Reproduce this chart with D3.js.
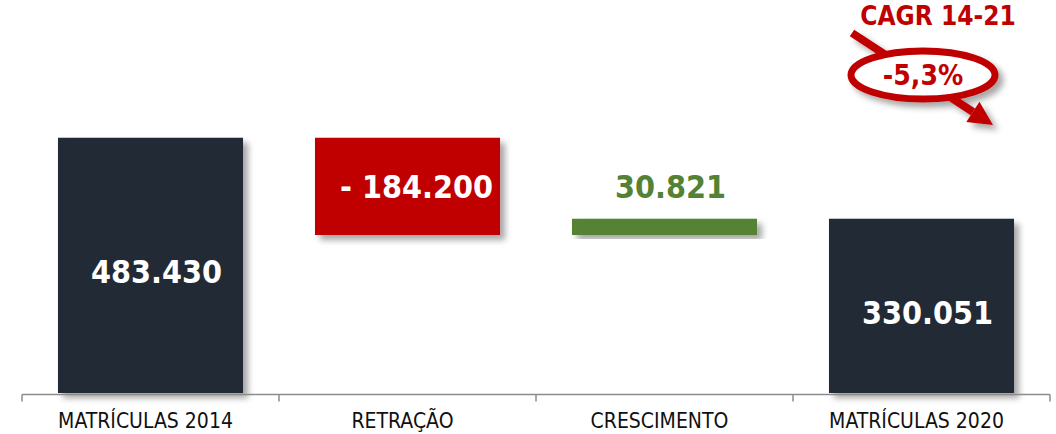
<!DOCTYPE html>
<html>
<head>
<meta charset="utf-8">
<script src="https://cdn.jsdelivr.net/npm/d3@7"></script>
<style>
    body { margin: 0; background: #fff; }
    svg { display: block; font-family: "DejaVu Sans Condensed", "DejaVu Sans", sans-serif; }
</style>
</head>
<body>
<svg id="chart" width="1056" height="434"></svg>
<script>
// waterfall data
var categories = ['MATRÍCULAS 2014', 'RETRAÇÃO', 'CRESCIMENTO', 'MATRÍCULAS 2020'];
var deltas = [483430, -184200, 30821, 330051];
var kinds = ['total', 'delta', 'delta', 'total'];
var valueLabels = ['483.430', '- 184.200', '30.821', '330.051'];
var cagrTitle = 'CAGR 14-21';
var cagrValue = '-5,3%';

var COLORS = { total: '#232a35', down: '#c00000', up: '#548235' };

function main() {
    var svg = d3.select('#chart');

    var x = d3.scaleBand()
        .domain(categories)
        .range([22, 1050])
        .paddingInner(0.28)
        .paddingOuter(0.14);

    var y = d3.scaleLinear()
        .domain([0, 500000])
        .range([393, 129]);

    // shadow
    var defs = svg.append('defs');
    defs.append('filter')
        .attr('id', 'shadow')
        .attr('x', '-20%').attr('y', '-20%')
        .attr('width', '140%').attr('height', '140%')
        .append('feDropShadow')
        .attr('dx', 5).attr('dy', 5)
        .attr('stdDeviation', 3)
        .attr('flood-color', '#000')
        .attr('flood-opacity', 0.35);

    // build running totals
    var running = 0;
    var rows = categories.map(function(c, i) {
        var lo, hi;
        if(kinds[i] === 'total') {
            running = deltas[i];
            lo = 0; hi = deltas[i];
        } else {
            var next = running + deltas[i];
            lo = Math.min(running, next);
            hi = Math.max(running, next);
            running = next;
        }
        var color = kinds[i] === 'total' ? COLORS.total : (deltas[i] < 0 ? COLORS.down : COLORS.up);
        return { cat: c, lo: lo, hi: hi, kind: kinds[i], delta: deltas[i], color: color, label: valueLabels[i] };
    });

    svg.append('g')
        .selectAll('rect')
        .data(rows)
        .enter().append('rect')
        .attr('x', function(d) { return x(d.cat); })
        .attr('y', function(d) { return y(d.hi); })
        .attr('width', x.bandwidth())
        .attr('height', function(d) { return y(d.lo) - y(d.hi); })
        .attr('fill', function(d) { return d.color; })
        .attr('filter', 'url(#shadow)');

    // value labels
    svg.append('g')
        .selectAll('text')
        .data(rows)
        .enter().append('text')
        .attr('x', function(d) {
            var cx = x(d.cat) + x.bandwidth() / 2;
            return d.kind === 'delta' && d.delta < 0 ? cx + 9 : cx + 6;
        })
        .attr('y', function(d) {
            if(d.kind === 'total') return (y(d.lo) + y(d.hi)) / 2 + 18;
            if(d.delta < 0) return 198;
            return y(d.hi) - 21;
        })
        .attr('text-anchor', 'middle')
        .attr('font-size', 32)
        .attr('font-weight', 'bold')
        .attr('fill', function(d) { return d.kind === 'delta' && d.delta > 0 ? COLORS.up : '#fff'; })
        .text(function(d) { return d.label; });

    // axis
    var axisY = 394.5;
    var axis = svg.append('g');
    axis.append('line')
        .attr('x1', x.range()[0]).attr('x2', x.range()[1])
        .attr('y1', axisY).attr('y2', axisY)
        .attr('stroke', '#8c8c8c').attr('stroke-width', 1.5);
    var edges = d3.range(categories.length + 1).map(function(i) { return x.range()[0] + i * x.step(); });
    axis.selectAll('.tick')
        .data(edges)
        .enter().append('line')
        .attr('x1', function(d) { return d; }).attr('x2', function(d) { return d; })
        .attr('y1', axisY).attr('y2', axisY + 7)
        .attr('stroke', '#8c8c8c').attr('stroke-width', 1.5);
    axis.selectAll('.label')
        .data(categories)
        .enter().append('text')
        .attr('x', function(d) { return x(d) + x.bandwidth() / 2 - 5; })
        .attr('y', 428)
        .attr('text-anchor', 'middle')
        .attr('font-size', 21)
        .attr('fill', '#111')
        .text(function(d) { return d; });

    // CAGR callout
    var red = '#c00000';
    var callout = svg.append('g').attr('filter', 'url(#shadow)');
    var x0 = 852, y0 = 33, x1 = 993, y1 = 125;
    var ang = Math.atan2(y1 - y0, x1 - x0);
    var headLen = 24, headHalf = 12;
    var bx = x1 - headLen * Math.cos(ang), by = y1 - headLen * Math.sin(ang);
    callout.append('line')
        .attr('x1', x0).attr('y1', y0)
        .attr('x2', bx).attr('y2', by)
        .attr('stroke', red).attr('stroke-width', 8);
    callout.append('path')
        .attr('d', 'M' + x1 + ',' + y1 +
            'L' + (bx + headHalf * Math.sin(ang)) + ',' + (by - headHalf * Math.cos(ang)) +
            'L' + (bx - headHalf * Math.sin(ang)) + ',' + (by + headHalf * Math.cos(ang)) + 'Z')
        .attr('fill', red);
    callout.append('ellipse')
        .attr('cx', 923).attr('cy', 75)
        .attr('rx', 72).attr('ry', 24)
        .attr('fill', '#fff')
        .attr('stroke', red).attr('stroke-width', 7);
    svg.append('text')
        .attr('x', 923).attr('y', 85)
        .attr('text-anchor', 'middle')
        .attr('font-size', 28).attr('font-weight', 'bold')
        .attr('fill', red)
        .text(cagrValue);
    svg.append('text')
        .attr('x', 938).attr('y', 25)
        .attr('text-anchor', 'middle')
        .attr('font-size', 26).attr('font-weight', 'bold')
        .attr('fill', red)
        .text(cagrTitle);
}

main();
</script>
</body>
</html>
